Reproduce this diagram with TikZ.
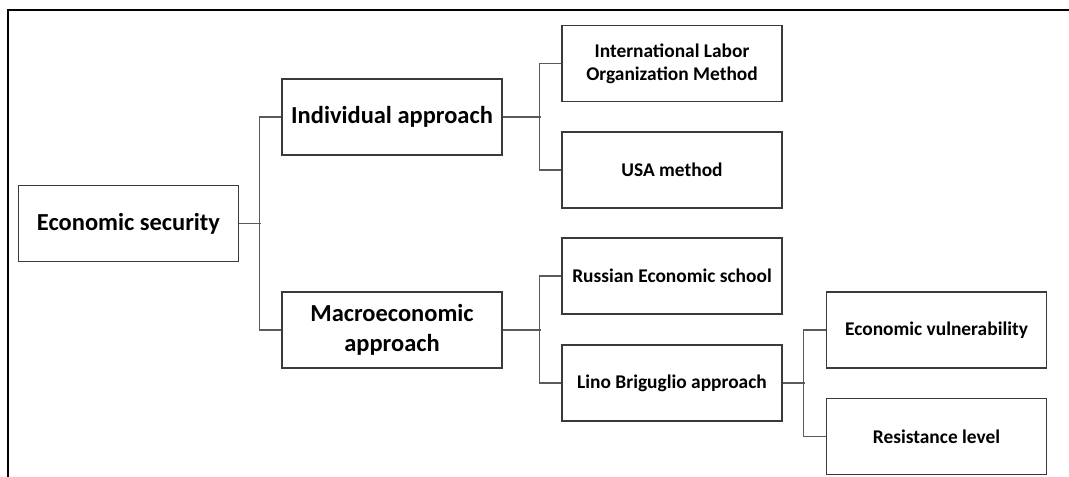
\documentclass[tikz,border=0pt]{standalone}
\usepackage{fontspec}
\setmainfont{Carlito}
\usepackage{xcolor}
\usepackage{tikz}

\definecolor{boxline}{HTML}{3A3A3A}
\definecolor{linkline}{HTML}{5A5A5A}

\tikzset{
	topbox/.style={draw=boxline, line width=0.8pt, minimum width=5.5cm, minimum height=1.9cm,
		inner sep=2pt, align=center, font=\bfseries\fontsize{17.4}{21.5}\selectfont},
	subbox/.style={topbox, font=\bfseries\fontsize{13.8}{16.5}\selectfont},
	link/.style={draw=linkline, line width=0.8pt},
}

\begin{document}
\begin{tikzpicture}[x=0.025cm, y=-0.025cm]
	\useasboundingbox (0,0) rectangle (1069,477);
	% frame
	\draw[line width=1.5pt] (8,477) -- (8,10) -- (1069,10);

	\node[topbox] (es) at (128.5,223.5) {Economic security};
	\node[topbox] (ind) at (392,117) {Individual approach};
	\node[topbox] (mac) at (392,330) {Macroeconomic\\approach};

	\node[subbox] (ilo) at (672,63.5) {International Labor\\Organization Method};
	\node[subbox] (usa) at (672,170) {USA method};
	\node[subbox] (rus) at (672,276) {Russian Economic school};
	\node[subbox] (lino) at (672,383) {Lino Briguglio approach};

	\node[subbox] (vul) at (936.5,330) {Economic vulnerability};
	\node[subbox] (res) at (936.5,436.5) {Resistance level};

	% tree links
	\draw[link] (es.east) -- ++(22,0);
	\draw[link] (ind.west) -- ++(-22,0) |- (mac.west);
	\draw[link] (ind.east) -- ++(38,0);
	\draw[link] (ilo.west) -- ++(-22,0) |- (usa.west);
	\draw[link] (mac.east) -- ++(38,0);
	\draw[link] (rus.west) -- ++(-22,0) |- (lino.west);
	\draw[link] (lino.east) -- ++(22,0);
	\draw[link] (vul.west) -- ++(-22,0) |- (res.west);
\end{tikzpicture}
\end{document}
